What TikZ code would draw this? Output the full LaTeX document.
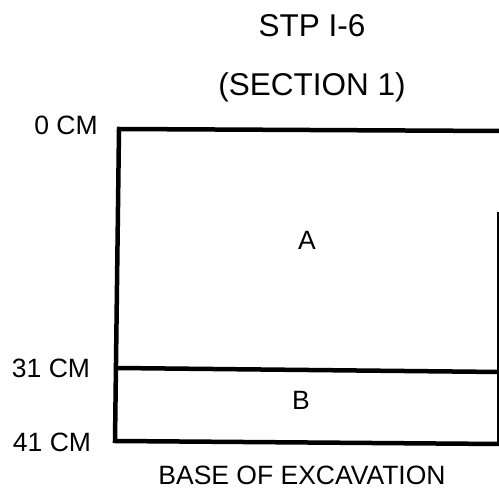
\documentclass[tikz,border=0pt]{standalone}
\usepackage{fontspec}
\setmainfont{Liberation Sans}
\begin{document}
\begin{tikzpicture}[x=1pt,y=-1pt,
  lbl/.style={anchor=base,inner sep=0pt,font=\fontsize{26.5}{26.5}\selectfont},
  ttl/.style={anchor=base,inner sep=0pt,font=\fontsize{31.5}{31.5}\selectfont},
  wall/.style={line width=4.5pt,line cap=rect,line join=miter},
  thin/.style={line width=2pt}]
\useasboundingbox (0,0) rectangle (499,489);
\node[ttl] (t1) at (312,37) {STP I-6};
\node[ttl] (t2) at (312,96) {(SECTION 1)};
\node[lbl] (d0) at (66,135) {0 CM};
\node[lbl] (d31) at (51,378) {31 CM};
\node[lbl] (d41) at (52,452) {41 CM};
\node[lbl] (la) at (307,250) {A};
\node[lbl] (lb) at (301,410) {B};
\node[lbl] (base) at (302,485) {BASE OF EXCAVATION};
\coordinate (tl) at (119,129);
\coordinate (tr) at (500,131);
\coordinate (bl) at (115,441);
\coordinate (br) at (500,444);
\coordinate (ml) at (117,368);
\coordinate (mr) at (500,372);
\coordinate (rt) at (498,212);
\coordinate (rb) at (498,444);
\draw[wall] (tr) -- (tl) -- (bl) -- (br);
\draw[wall,line cap=butt] (ml) -- (mr);
\draw[thin] (rt) -- (rb);
\end{tikzpicture}
\end{document}
